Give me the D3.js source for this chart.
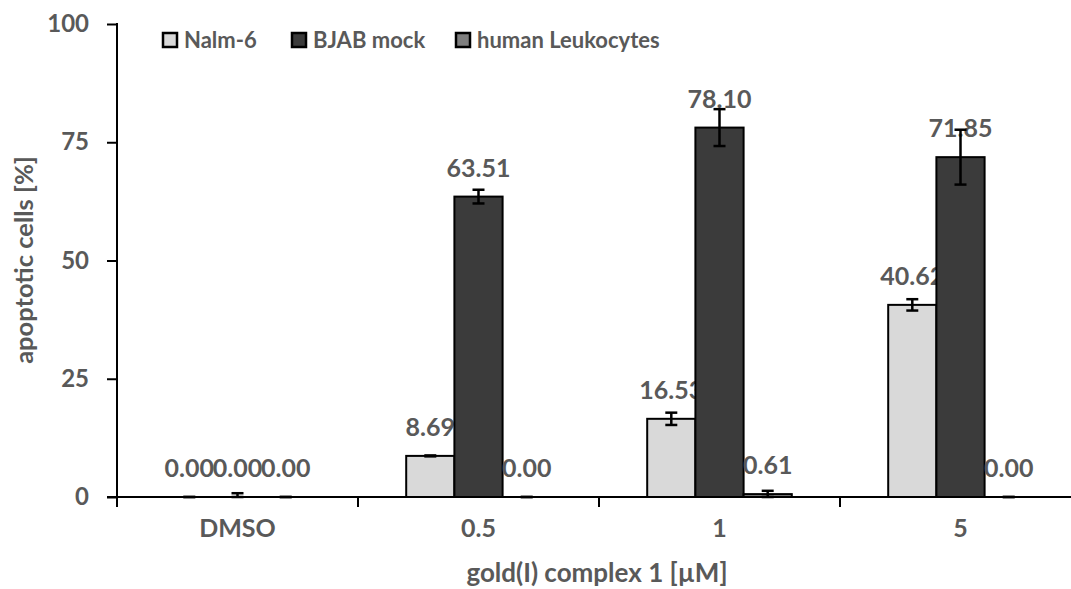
<!DOCTYPE html>
<html>
<head>
<meta charset="utf-8">
<script src="https://cdn.jsdelivr.net/npm/d3@7"></script>
<style>
  html, body { margin: 0; padding: 0; background: #fff; }
  svg { display: block; font-family: Lato, "Open Sans", sans-serif; font-weight: bold; }
</style>
</head>
<body>
<svg id="chart" width="1071" height="589"></svg>
<script>
// Apoptosis induced by gold(I) complex 1 in three cell populations
const categories = ["DMSO", "0.5", "1", "5"];
const seriesNames = ["Nalm-6", "BJAB mock", "human Leukocytes"];
const nalm6 = [0.00, 8.69, 16.53, 40.62];
const bjabMock = [0.00, 63.51, 78.10, 71.85];
const leukocytes = [0.00, 0.00, 0.61, 0.00];
const nalm6Err = [0.0, 0.1, 1.3, 1.2];
const bjabMockErr = [0.8, 1.45, 3.9, 5.8];
const leukocytesErr = [0.0, 0.0, 0.7, 0.0];
const yTicks = [0, 25, 50, 75, 100];

const seriesValues = [nalm6, bjabMock, leukocytes];
const seriesErrors = [nalm6Err, bjabMockErr, leukocytesErr];
const fills = ["#d9d9d9", "#3b3b3b", "#7f7f7f"];
const textGray = "#595959";

const svg = d3.select("#chart");
const plotLeft = 117, plotBottom = 497, plotTop = 24, step = 241;

const y = d3.scaleLinear().domain([0, 100]).range([plotBottom, plotTop]);
const x = d3.scaleBand().domain(categories)
  .range([plotLeft, plotLeft + step * categories.length])
  .paddingInner(0).paddingOuter(0);
const xs = d3.scaleBand().domain(seriesNames).range([0, x.bandwidth()])
  .paddingInner(0).paddingOuter(1);

// Y axis
const yAxis = svg.append("g").attr("transform", `translate(${plotLeft},0)`)
  .call(d3.axisLeft(y).tickValues(yTicks).tickSize(10).tickSizeOuter(0).tickPadding(18));
yAxis.select(".domain").remove();
yAxis.selectAll(".tick line").attr("stroke", "#000").attr("stroke-width", 2);
yAxis.selectAll(".tick text").attr("fill", textGray).style("font-size", "24px")
  .style("font-family", "Lato, sans-serif").style("font-weight", "bold");
svg.append("line").attr("x1", plotLeft).attr("x2", plotLeft)
  .attr("y1", y(100) - 1).attr("y2", plotBottom + 10)
  .attr("stroke", "#000").attr("stroke-width", 2);

// X axis: category labels and boundary ticks
const xAxis = svg.append("g").attr("transform", `translate(0,${plotBottom})`)
  .call(d3.axisBottom(x).tickSize(0).tickPadding(0));
xAxis.select(".domain").remove();
xAxis.selectAll(".tick text").attr("fill", textGray).style("font-size", "25px")
  .style("font-family", "Lato, sans-serif").style("font-weight", "bold")
  .attr("dy", null).attr("y", 40);
svg.append("g").selectAll("line").data(categories.slice(1)).join("line")
  .attr("x1", d => x(d)).attr("x2", d => x(d))
  .attr("y1", plotBottom).attr("y2", plotBottom + 10)
  .attr("stroke", "#000").attr("stroke-width", 2);
svg.append("line").attr("x1", plotLeft - 10).attr("x2", 1071)
  .attr("y1", plotBottom).attr("y2", plotBottom)
  .attr("stroke", "#000").attr("stroke-width", 2);

// Bars, value labels and error bars, drawn series by series
seriesNames.forEach((name, si) => {
  const rows = categories.map((c, i) => ({ c, v: seriesValues[si][i], e: seriesErrors[si][i] }));
  const cx = d => x(d.c) + xs(name) + xs.bandwidth() / 2;
  const g = svg.append("g");
  g.selectAll("rect").data(rows).join("rect")
    .attr("x", d => x(d.c) + xs(name))
    .attr("y", d => y(d.v))
    .attr("width", xs.bandwidth())
    .attr("height", d => y(0) - y(d.v))
    .attr("fill", fills[si]).attr("stroke", "#000").attr("stroke-width", 2);
  g.selectAll("text").data(rows).join("text")
    .attr("x", cx)
    .attr("y", d => y(d.v) - 20)
    .attr("text-anchor", "middle").attr("fill", textGray)
    .style("font-size", "25px")
    .text(d => d.v.toFixed(2));
  const eb = g.selectAll("g.err").data(rows).join("g").attr("class", "err")
    .attr("stroke", "#000").attr("stroke-width", 2.5);
  eb.append("line").attr("x1", cx).attr("x2", cx)
    .attr("y1", d => y(d.v + d.e)).attr("y2", d => y(Math.max(0, d.v - d.e)));
  eb.append("line").attr("x1", d => cx(d) - 6).attr("x2", d => cx(d) + 6)
    .attr("y1", d => y(d.v + d.e)).attr("y2", d => y(d.v + d.e));
  eb.append("line").attr("x1", d => cx(d) - 6).attr("x2", d => cx(d) + 6)
    .attr("y1", d => y(Math.max(0, d.v - d.e))).attr("y2", d => y(Math.max(0, d.v - d.e)));
});

// Axis titles
svg.append("text").attr("transform", "translate(33,260) rotate(-90)")
  .attr("text-anchor", "middle").attr("fill", textGray).style("font-size", "25.5px")
  .text("apoptotic cells [%]");
svg.append("text").attr("x", 597).attr("y", 582)
  .attr("text-anchor", "middle").attr("fill", textGray).style("font-size", "26px")
  .text("gold(I) complex 1 [µM]");

// Legend
const legendX = [163, 292, 456];
const legend = svg.append("g").selectAll("g").data(seriesNames).join("g")
  .attr("transform", (d, i) => `translate(${legendX[i]},33)`);
legend.append("rect").attr("width", 14).attr("height", 14)
  .attr("fill", (d, i) => fills[i]).attr("stroke", "#000").attr("stroke-width", 2.5);
legend.append("text").attr("x", 21).attr("y", 15)
  .attr("fill", textGray).style("font-size", "22px").text(d => d);
</script>
</body>
</html>
